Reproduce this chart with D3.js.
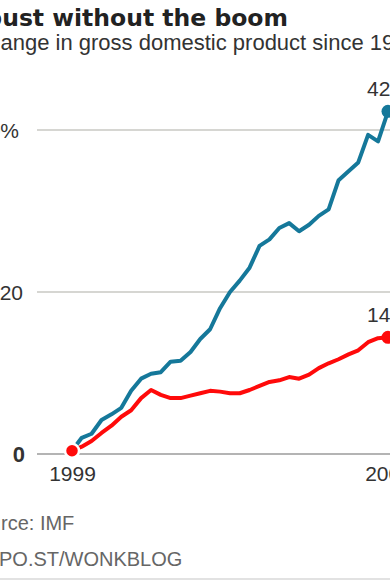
<!DOCTYPE html>
<html>
<head>
<meta charset="utf-8">
<script src="https://cdn.jsdelivr.net/npm/d3@7"></script>
<style>
  body { margin: 0; background: #fff; overflow: hidden; }
  svg { display: block; }
  .title { font-family: "DejaVu Sans", sans-serif; font-weight: bold; font-size: 23.5px; fill: #222; }
  .sub { font-family: "Liberation Sans", Arial, sans-serif; font-size: 22px; fill: #333; }
  .foot { font-family: "Liberation Sans", Arial, sans-serif; font-size: 20px; fill: #666; }
  .vlabel { font-family: "Liberation Sans", Arial, sans-serif; font-size: 21px; fill: #333; }
  .xaxis .tick text { font-family: "Liberation Sans", Arial, sans-serif; font-size: 21px; fill: #333; }
</style>
</head>
<body>
<div id="chart"></div>
<script>
// quarterly GDP, % change since 1999 Q1
const quarters = ["1999-Q1","1999-Q2","1999-Q3","1999-Q4","2000-Q1","2000-Q2","2000-Q3","2000-Q4",
  "2001-Q1","2001-Q2","2001-Q3","2001-Q4","2002-Q1","2002-Q2","2002-Q3","2002-Q4",
  "2003-Q1","2003-Q2","2003-Q3","2003-Q4","2004-Q1","2004-Q2","2004-Q3","2004-Q4",
  "2005-Q1","2005-Q2","2005-Q3","2005-Q4","2006-Q1","2006-Q2","2006-Q3","2006-Q4","2007-Q1"];
const blueValues = [0.4, 2.0, 2.5, 4.2, 4.9, 5.7, 7.8, 9.3, 9.9, 10.1, 11.4, 11.5, 12.6, 14.2, 15.4, 18.0,
  20.0, 21.4, 23.0, 25.7, 26.5, 27.9, 28.5, 27.5, 28.3, 29.4, 30.2, 33.8, 34.9, 36.0, 39.4, 38.6, 42.3];
const redValues = [0.4, 0.9, 1.6, 2.6, 3.5, 4.6, 5.4, 6.9, 7.9, 7.3, 6.9, 6.9, 7.2, 7.5, 7.8, 7.7,
  7.5, 7.5, 7.9, 8.4, 8.9, 9.1, 9.5, 9.3, 9.8, 10.6, 11.2, 11.7, 12.3, 12.8, 13.8, 14.3, 14.4];
const yTicks = [0, 20, 40];
const yTickLabels = ["0", "20", "40%"];
const xTickLabels = ["1999", "2007"];
const endLabels = ["42%", "14%"];

const W = 390, H = 580;
const svg = d3.select("#chart").append("svg").attr("width", W).attr("height", H);

const parseQ = s => new Date(+s.slice(0, 4), (+s.slice(6) - 1) * 3, 1);
const dates = quarters.map(parseQ);

const x = d3.scaleTime().domain([dates[0], dates[dates.length - 1]]).range([72, 388]);
const y = d3.scaleLinear().domain([0, 40]).range([454, 130]);

function prefixWidth(cls, s) {
  const t = svg.append("text").attr("class", cls).text(s);
  const w = t.node().getComputedTextLength();
  t.remove();
  return w;
}

// title and subtitle (the picture is cropped at the left edge)
svg.append("text").attr("class", "title").attr("x", 288).attr("y", 26)
  .attr("text-anchor", "end").text("The bust without the boom");
svg.append("text").attr("class", "sub").attr("x", -prefixWidth("sub", "Percent ch") + 0.5).attr("y", 50)
  .text("Percent change in gross domestic product since 1999");

// y grid + labels
const yAxis = svg.append("g").attr("class", "yaxis");
yAxis.selectAll("line").data(yTicks).enter().append("line")
  .attr("x1", 37).attr("x2", W)
  .attr("y1", d => y(d)).attr("y2", d => y(d))
  .attr("stroke", d => d === 0 ? "#b4b4b4" : "#d6d6d2")
  .attr("stroke-width", 2);
yAxis.selectAll("text").data(yTicks).enter().append("text")
  .attr("x", d => d === 40 ? 19 : (d === 0 ? 25 : 23))
  .attr("y", d => y(d))
  .attr("dy", "0.36em")
  .attr("text-anchor", "end")
  .style("font-family", "'Liberation Sans', Arial, sans-serif")
  .style("font-size", d => d === 0 ? "22px" : "21px")
  .style("font-weight", d => d === 0 ? "bold" : "normal")
  .style("fill", "#333")
  .text((d, i) => yTickLabels[i]);

// x axis labels
const xAxis = svg.append("g").attr("class", "xaxis")
  .attr("transform", "translate(0,454)")
  .call(d3.axisBottom(x)
    .tickValues(xTickLabels.map(s => new Date(+s, 0, 1)))
    .tickFormat(d3.timeFormat("%Y"))
    .tickSize(0).tickPadding(12));
xAxis.select(".domain").remove();

// lines
const line = d3.line().x((d, i) => x(dates[i])).y(d => y(d));
svg.append("path").datum(blueValues)
  .attr("fill", "none").attr("stroke", "#15789a").attr("stroke-width", 4)
  .attr("stroke-linejoin", "round").attr("d", line);
svg.append("path").datum(redValues)
  .attr("fill", "none").attr("stroke", "#ff0a0a").attr("stroke-width", 4)
  .attr("stroke-linejoin", "round").attr("d", line);

// start dot
svg.append("circle").attr("cx", x(dates[0])).attr("cy", y(redValues[0])).attr("r", 7)
  .attr("fill", "#ff0a0a").attr("stroke", "#fff").attr("stroke-width", 2.5);

// end dots + labels
const last = dates.length - 1;
const ends = [
  { v: blueValues[last], c: "#15789a", label: endLabels[0] },
  { v: redValues[last], c: "#ff0a0a", label: endLabels[1] }
];
svg.selectAll(".enddot").data(ends).enter().append("circle")
  .attr("class", "enddot")
  .attr("cx", x(dates[last])).attr("cy", d => y(d.v)).attr("r", 6.5)
  .attr("fill", d => d.c);
svg.selectAll(".vlabel").data(ends).enter().append("text")
  .attr("class", "vlabel")
  .attr("x", x(dates[last])).attr("y", d => y(d.v) - 15)
  .attr("text-anchor", "middle")
  .text(d => d.label);

// footer
svg.append("text").attr("class", "foot").attr("x", -prefixWidth("foot", "Sou") + 1).attr("y", 530)
  .text("Source: IMF");
svg.append("text").attr("class", "foot").attr("x", -prefixWidth("foot", "WA") - 1).attr("y", 566)
  .text("WAPO.ST/WONKBLOG");
svg.append("line").attr("x1", 0).attr("x2", W).attr("y1", 579).attr("y2", 579)
  .attr("stroke", "#e2e2e2").attr("stroke-width", 2);
</script>
</body>
</html>
